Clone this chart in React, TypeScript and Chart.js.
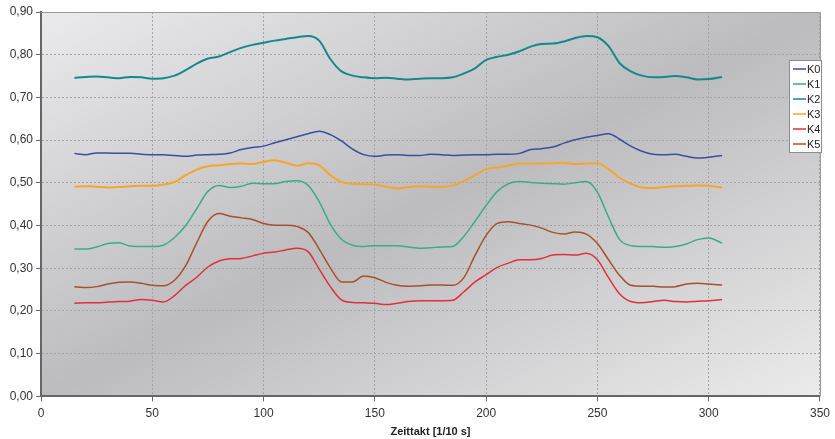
import React, { useEffect, useRef } from "react";
import { Chart, registerables } from "chart.js";

Chart.register(...registerables);

const xValues = [15, 20, 25, 30, 35, 40, 45, 50, 55, 60, 65, 70, 75, 80, 85, 90, 95, 100, 105, 110, 115, 120, 125, 130, 135, 140, 145, 150, 155, 160, 165, 170, 175, 180, 185, 190, 195, 200, 205, 210, 215, 220, 225, 230, 235, 240, 245, 250, 255, 260, 265, 270, 275, 280, 285, 290, 295, 300, 306];

const k0 = [0.569, 0.566, 0.570, 0.570, 0.569, 0.569, 0.567, 0.566, 0.566, 0.564, 0.562, 0.565, 0.566, 0.567, 0.570, 0.578, 0.583, 0.586, 0.594, 0.601, 0.608, 0.615, 0.621, 0.613, 0.598, 0.579, 0.566, 0.562, 0.565, 0.566, 0.564, 0.564, 0.567, 0.566, 0.564, 0.565, 0.566, 0.566, 0.567, 0.567, 0.569, 0.578, 0.580, 0.584, 0.593, 0.601, 0.607, 0.611, 0.615, 0.602, 0.586, 0.574, 0.567, 0.566, 0.567, 0.562, 0.558, 0.560, 0.564];
const k1 = [0.345, 0.345, 0.350, 0.358, 0.360, 0.352, 0.351, 0.351, 0.354, 0.372, 0.400, 0.440, 0.480, 0.494, 0.489, 0.492, 0.499, 0.498, 0.498, 0.503, 0.505, 0.494, 0.456, 0.403, 0.368, 0.354, 0.351, 0.353, 0.353, 0.353, 0.350, 0.347, 0.348, 0.350, 0.351, 0.375, 0.410, 0.447, 0.480, 0.498, 0.503, 0.501, 0.499, 0.498, 0.497, 0.500, 0.503, 0.478, 0.420, 0.367, 0.353, 0.351, 0.351, 0.349, 0.351, 0.357, 0.367, 0.371, 0.359];
const k2 = [0.746, 0.748, 0.749, 0.747, 0.745, 0.748, 0.747, 0.744, 0.745, 0.751, 0.764, 0.779, 0.791, 0.796, 0.806, 0.816, 0.823, 0.828, 0.833, 0.837, 0.841, 0.844, 0.833, 0.790, 0.761, 0.751, 0.747, 0.745, 0.746, 0.744, 0.742, 0.744, 0.745, 0.745, 0.747, 0.756, 0.768, 0.788, 0.795, 0.800, 0.808, 0.819, 0.825, 0.826, 0.831, 0.839, 0.844, 0.841, 0.820, 0.780, 0.761, 0.751, 0.747, 0.748, 0.750, 0.747, 0.742, 0.743, 0.748];
const k3 = [0.491, 0.492, 0.491, 0.489, 0.490, 0.492, 0.493, 0.493, 0.496, 0.502, 0.518, 0.531, 0.539, 0.541, 0.544, 0.545, 0.544, 0.549, 0.553, 0.547, 0.540, 0.546, 0.541, 0.518, 0.502, 0.498, 0.497, 0.496, 0.491, 0.487, 0.490, 0.492, 0.491, 0.490, 0.494, 0.504, 0.518, 0.532, 0.536, 0.540, 0.545, 0.545, 0.545, 0.546, 0.547, 0.544, 0.545, 0.546, 0.532, 0.512, 0.498, 0.489, 0.488, 0.490, 0.492, 0.493, 0.494, 0.493, 0.489];
const k4 = [0.218, 0.219, 0.219, 0.221, 0.222, 0.223, 0.227, 0.225, 0.221, 0.236, 0.260, 0.279, 0.303, 0.317, 0.322, 0.323, 0.329, 0.335, 0.338, 0.343, 0.347, 0.339, 0.298, 0.257, 0.226, 0.220, 0.219, 0.218, 0.215, 0.218, 0.222, 0.224, 0.224, 0.224, 0.225, 0.245, 0.268, 0.285, 0.302, 0.312, 0.320, 0.320, 0.323, 0.331, 0.332, 0.331, 0.335, 0.320, 0.278, 0.240, 0.222, 0.219, 0.222, 0.225, 0.222, 0.221, 0.223, 0.224, 0.227];
const k5 = [0.257, 0.255, 0.257, 0.263, 0.267, 0.268, 0.265, 0.260, 0.259, 0.272, 0.306, 0.360, 0.410, 0.428, 0.422, 0.418, 0.414, 0.405, 0.401, 0.401, 0.398, 0.384, 0.345, 0.301, 0.268, 0.268, 0.282, 0.278, 0.267, 0.260, 0.258, 0.259, 0.261, 0.261, 0.260, 0.278, 0.330, 0.377, 0.405, 0.409, 0.405, 0.401, 0.394, 0.384, 0.380, 0.385, 0.380, 0.358, 0.320, 0.283, 0.260, 0.258, 0.258, 0.256, 0.257, 0.263, 0.265, 0.263, 0.261];

const seriesLabels = ["K0", "K1", "K2", "K3", "K4", "K5"];
const seriesData = [k0, k1, k2, k3, k4, k5];
const seriesColors = ["#3a4d9e", "#3aad87", "#13898c", "#f7a52a", "#e0303c", "#a8502c"];
const seriesWidths = [1.5, 1.5, 2, 2, 1.5, 1.5];

const xTitle = "Zeittakt [1/10 s]";

const bgPlugin = {
  id: "bgPlugin",
  beforeDraw(chart: any) {
    const { ctx, chartArea } = chart;
    const { left, top, right, bottom } = chartArea;
    const w = right - left;
    const h = bottom - top;
    ctx.save();
    ctx.translate(left, top);
    ctx.scale(w, h);
    const g = ctx.createLinearGradient(0, 0, 1, 1);
    g.addColorStop(0, "#ebebed");
    g.addColorStop(0.5, "#bcbcbe");
    g.addColorStop(1, "#ebebec");
    ctx.fillStyle = g;
    ctx.fillRect(0, 0, 1, 1);
    ctx.restore();
  },
  afterDraw(chart: any) {
    const { ctx, chartArea } = chart;
    const { left, top, right, bottom } = chartArea;
    ctx.save();
    // top & right borders
    ctx.strokeStyle = "#9a9a9a";
    ctx.lineWidth = 1;
    ctx.beginPath();
    ctx.moveTo(left, top + 0.5);
    ctx.lineTo(right + 0.5, top + 0.5);
    ctx.lineTo(right + 0.5, bottom);
    ctx.stroke();
    // legend
    const bx = 789.5, by = 60.5, bw = 32, bh = 92;
    ctx.fillStyle = "#ffffff";
    ctx.fillRect(bx, by, bw, bh);
    ctx.strokeStyle = "#8c8c8c";
    ctx.strokeRect(bx, by, bw, bh);
    ctx.font = "11px 'Liberation Sans', Arial, sans-serif";
    ctx.textBaseline = "middle";
    ctx.textAlign = "left";
    seriesLabels.forEach((lab, i) => {
      const yy = 69 + i * 15;
      ctx.strokeStyle = seriesColors[i];
      ctx.lineWidth = 1.5;
      ctx.beginPath();
      ctx.moveTo(793, yy);
      ctx.lineTo(806, yy);
      ctx.stroke();
      ctx.fillStyle = "#222";
      ctx.fillText(lab, 807, yy + 0.5);
    });
    ctx.restore();
  },
};

export default function App() {
  const ref = useRef<HTMLCanvasElement | null>(null);
  useEffect(() => {
    document.body.style.margin = "0";
    const canvas = ref.current;
    if (!canvas) return;
    const chart = new Chart(canvas, {
      type: "line",
      data: {
        datasets: seriesLabels.map((lab, i) => ({
          label: lab,
          data: xValues.map((x, j) => ({ x, y: seriesData[i][j] })),
          borderColor: seriesColors[i],
          backgroundColor: seriesColors[i],
          borderWidth: seriesWidths[i],
          pointRadius: 0,
          fill: false,
          tension: 0.4,
          cubicInterpolationMode: "monotone" as const,
        })),
      },
      options: {
        animation: false,
        responsive: false,
        maintainAspectRatio: false,
        layout: { padding: { top: 12, right: 15, left: 0, bottom: 0 } },
        plugins: { legend: { display: false }, tooltip: { enabled: false } },
        scales: {
          x: {
            type: "linear",
            min: 0,
            max: 350,
            ticks: {
              stepSize: 50,
              color: "#333",
              padding: 5,
              font: { family: "'Liberation Sans', Arial, sans-serif", size: 12 },
            },
            grid: {
              color: "#a4a4a4",
              lineWidth: 1,
              tickLength: 5,
              tickColor: "#666",
              tickBorderDash: [],
            } as any,
            border: { display: true, color: "#666", width: 2, dash: [2, 2] } as any,
            title: {
              display: true,
              text: xTitle,
              color: "#222",
              padding: { top: 0, bottom: 0 },
              font: { family: "'Liberation Sans', Arial, sans-serif", size: 11, weight: "bold" },
            },
          },
          y: {
            type: "linear",
            min: 0,
            max: 0.9,
            ticks: {
              stepSize: 0.1,
              color: "#333",
              padding: 3,
              font: { family: "'Liberation Sans', Arial, sans-serif", size: 12 },
              callback: (v: any) => Number(v).toFixed(2).replace(".", ","),
            },
            grid: {
              color: "#a4a4a4",
              lineWidth: 1,
              tickLength: 5,
              tickColor: "#666",
              tickBorderDash: [],
            } as any,
            border: { display: true, color: "#666", width: 2, dash: [2, 2] } as any,
            afterFit: (s: any) => {
              s.width = 41;
            },
          },
        },
      },
      plugins: [bgPlugin],
    });
    return () => chart.destroy();
  }, []);
  return (
    <div style={{ width: 835, height: 439 }}>
      <canvas ref={ref} width={835} height={439} style={{ display: "block" }} />
    </div>
  );
}
